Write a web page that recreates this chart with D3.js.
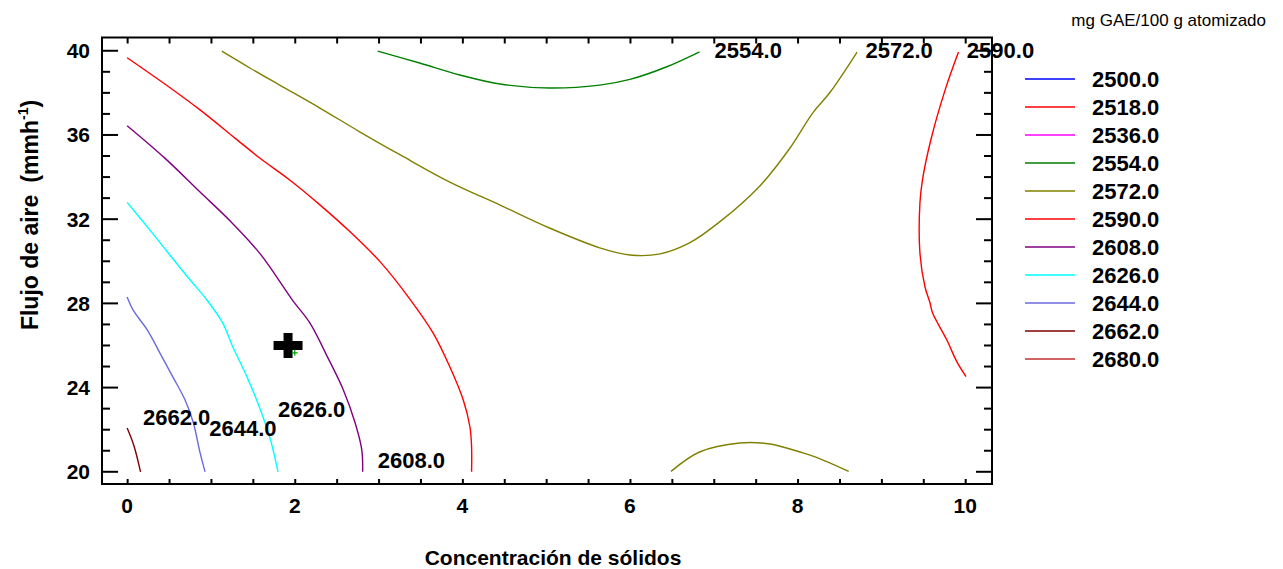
<!DOCTYPE html>
<html>
<head>
<meta charset="utf-8">
<script src="https://cdn.jsdelivr.net/npm/d3@7"></script>
<style>
  html, body { margin: 0; padding: 0; background: #fff; }
  svg { display: block; }
  text { font-family: "Liberation Sans", Arial, sans-serif; }
</style>
</head>
<body>
<script>
// ---------------- DATA ----------------
const levels = [2500, 2518, 2536, 2554, 2572, 2590, 2608, 2626, 2644, 2662, 2680];
const levelColors = ["#0000ff", "#ff0000", "#ff00ff", "#008000", "#808000", "#ff0000",
                     "#800080", "#00ffff", "#6a6ae0", "#800000", "#c03030"];
const xTickLabels = [0, 2, 4, 6, 8, 10];
const yTickLabels = [20, 24, 28, 32, 36, 40];

// contour polylines [concentración, flujo]
const c2554 = [[2.99,39.98],[3.49,39.42],[3.97,38.85],[4.45,38.42],[5.04,38.23],[5.64,38.37],
               [6.0,38.64],[6.44,39.24],[6.83,39.95]];
const c2572a = [[1.13,39.98],[1.47,39.17],[1.82,38.37],[2.30,37.28],[2.78,36.14],[3.26,35.05],
                [3.85,33.76],[4.45,32.67],[5.04,31.58],[5.64,30.64],[6.0,30.30],[6.36,30.35],
                [6.71,30.87],[7.07,31.87],[7.55,33.58],[7.91,35.38],[8.18,37.04],[8.39,38.04],[8.71,39.94]];
const c2572b = [[6.49,20.02],[6.83,20.94],[7.31,21.37],[7.67,21.32],[8.03,20.94],[8.21,20.71],[8.61,20.02]];
const c2590a = [[0,39.67],[0.45,38.42],[0.87,37.19],[1.29,35.84],[1.59,34.88],[1.94,33.86],
                [2.30,32.68],[2.66,31.40],[3.02,29.97],[3.38,28.17],[3.65,26.60],[3.85,24.99],
                [4.01,23.42],[4.09,22.14],[4.11,21.19],[4.11,20.0]];
const c2590b = [[9.92,39.94],[9.76,38.13],[9.59,35.76],[9.49,33.86],[9.46,32.77],[9.46,30.40],
                [9.52,28.79],[9.58,28.03],[9.61,27.55],[9.78,26.27],[9.90,25.23],[10.01,24.52]];
const c2608 = [[0,36.44],[0.45,34.9],[0.87,33.29],[1.23,31.91],[1.59,30.34],[1.97,28.17],
               [2.18,27.07],[2.39,25.46],[2.58,23.89],[2.72,22.33],[2.80,21.04],[2.81,20.0]];
const c2626 = [[0,32.80],[0.27,31.49],[0.51,30.30],[0.75,29.12],[0.95,28.17],[1.14,27.07],
               [1.26,25.94],[1.43,24.51],[1.59,22.95],[1.71,21.52],[1.80,20.0]];
const c2644 = [[0,28.3],[0.07,27.69],[0.24,26.74],[0.39,25.65],[0.55,24.47],[0.69,23.42],
               [0.79,22.33],[0.87,20.91],[0.93,20.0]];
const c2662 = [[0,22.08],[0.08,21.25],[0.16,20.0]];

const contourLines = [
  {level: 2554, pts: c2554}, {level: 2572, pts: c2572a}, {level: 2572, pts: c2572b},
  {level: 2590, pts: c2590a}, {level: 2590, pts: c2590b}, {level: 2608, pts: c2608},
  {level: 2626, pts: c2626}, {level: 2644, pts: c2644}, {level: 2662, pts: c2662}
];

// label anchors (data coords: left x, baseline y)
const labelLevels = [2554, 2572, 2590, 2662, 2644, 2626, 2608];
const labelX = [7.01, 8.81, 10.02, 0.19, 0.98, 1.80, 2.99];
const labelY = [39.65, 39.65, 39.65, 22.2, 21.7, 22.6, 20.18];

const optimumPoint = [1.92, 26.0];
const designPoint = [2.0, 25.65];

// ---------------- LAYOUT ----------------
const W = 1283, H = 569;
const svg = d3.select("body").append("svg").attr("width", W).attr("height", H);
const x = d3.scaleLinear().domain([-0.3, 10.32]).range([102, 992]);
const y = d3.scaleLinear().domain([19.42, 40.63]).range([484, 37.5]);
const colorOf = d3.scaleOrdinal().domain(levels).range(levelColors);

// contours
const line = d3.line().x(d => x(d[0])).y(d => y(d[1])).curve(d3.curveCatmullRom.alpha(0.5));
svg.append("g").selectAll("path").data(contourLines).join("path")
  .attr("d", d => line(d.pts))
  .attr("fill", "none")
  .attr("stroke", d => colorOf(d.level))
  .attr("stroke-width", 1.4);

// axes ticks
const xMinor = d3.range(0, 10.001, 0.5);
const yMinor = d3.range(20, 40.001, 1);
svg.append("g").attr("transform", `translate(0,${y.range()[0]})`)
  .call(d3.axisBottom(x).tickValues(xMinor).tickSizeInner(-5).tickSizeOuter(0).tickFormat(""))
  .call(g => g.select(".domain").remove())
  .call(g => g.selectAll("line").attr("stroke", "#000").attr("stroke-width", 2));
svg.append("g").attr("transform", `translate(0,${y.range()[1]})`)
  .call(d3.axisTop(x).tickValues(xMinor).tickSizeInner(-6).tickSizeOuter(0).tickFormat(""))
  .call(g => g.select(".domain").remove())
  .call(g => g.selectAll("line").attr("stroke", "#000").attr("stroke-width", 2));
function yTicks(g, dir) {
  g.selectAll("line").data(yMinor).join("line")
    .attr("x1", 0)
    .attr("x2", d => dir * (d % 4 === 0 ? 16 : 8))
    .attr("y1", d => y(d)).attr("y2", d => y(d))
    .attr("stroke", "#000").attr("stroke-width", 2);
}
svg.append("g").attr("transform", `translate(${x.range()[0]},0)`).call(yTicks, 1);
svg.append("g").attr("transform", `translate(${x.range()[1]},0)`).call(yTicks, -1);

// frame
svg.append("rect")
  .attr("x", x.range()[0]).attr("y", y.range()[1])
  .attr("width", x.range()[1] - x.range()[0]).attr("height", y.range()[0] - y.range()[1])
  .attr("fill", "none").attr("stroke", "#000").attr("stroke-width", 2);

// tick labels
svg.append("g").selectAll("text").data(xTickLabels).join("text")
  .attr("x", d => x(d)).attr("y", 513)
  .attr("text-anchor", "middle")
  .attr("font-size", 21).attr("font-weight", "bold")
  .text(d => d);
svg.append("g").selectAll("text").data(yTickLabels).join("text")
  .attr("x", 90).attr("y", d => y(d) + 7.5)
  .attr("text-anchor", "end")
  .attr("font-size", 21).attr("font-weight", "bold")
  .text(d => d);

// contour labels
svg.append("g").selectAll("text").data(labelLevels).join("text")
  .attr("x", (d, i) => x(labelX[i])).attr("y", (d, i) => y(labelY[i]))
  .attr("font-size", 22).attr("font-weight", "bold")
  .text(d => d.toFixed(1));

// optimum marker (black cross) and small green design point
const ox = x(optimumPoint[0]), oy = y(optimumPoint[1]);
svg.append("path")
  .attr("d", `M${ox-14.5},${oy-4.5}h10v-8h9v8h10v9h-10v8h-9v-8h-10z`)
  .attr("fill", "#000");
const gx = x(designPoint[0]), gy = y(designPoint[1]);
svg.append("path")
  .attr("d", `M${gx-3},${gy}h6M${gx},${gy-3}v6`)
  .attr("stroke", "#00a000").attr("stroke-width", 1.2);

// axis titles
svg.append("text")
  .attr("x", 553).attr("y", 565)
  .attr("text-anchor", "middle")
  .attr("font-size", 21).attr("font-weight", "bold")
  .text("Concentración de sólidos");
const yt = svg.append("text")
  .attr("transform", "translate(38,215) rotate(-90)")
  .attr("text-anchor", "middle")
  .attr("font-size", 23).attr("font-weight", "bold");
yt.append("tspan").text("Flujo de aire");
yt.append("tspan").attr("dx", 12).text("(mmh");
yt.append("tspan").attr("font-size", 14).attr("dy", -10).text("-1");
yt.append("tspan").attr("dy", 10).text(")");

// legend
svg.append("text")
  .attr("x", 1266).attr("y", 26)
  .attr("text-anchor", "end")
  .attr("font-size", 17)
  .text("mg GAE/100 g atomizado");
const lg = svg.append("g").selectAll("g").data(levels).join("g")
  .attr("transform", (d, i) => `translate(0,${79 + 28 * i})`);
lg.append("line").attr("x1", 1025).attr("x2", 1075)
  .attr("stroke", d => colorOf(d)).attr("stroke-width", 1.5);
lg.append("text").attr("x", 1092).attr("y", 8)
  .attr("font-size", 22).attr("font-weight", "bold")
  .text(d => d.toFixed(1));
</script>
</body>
</html>
